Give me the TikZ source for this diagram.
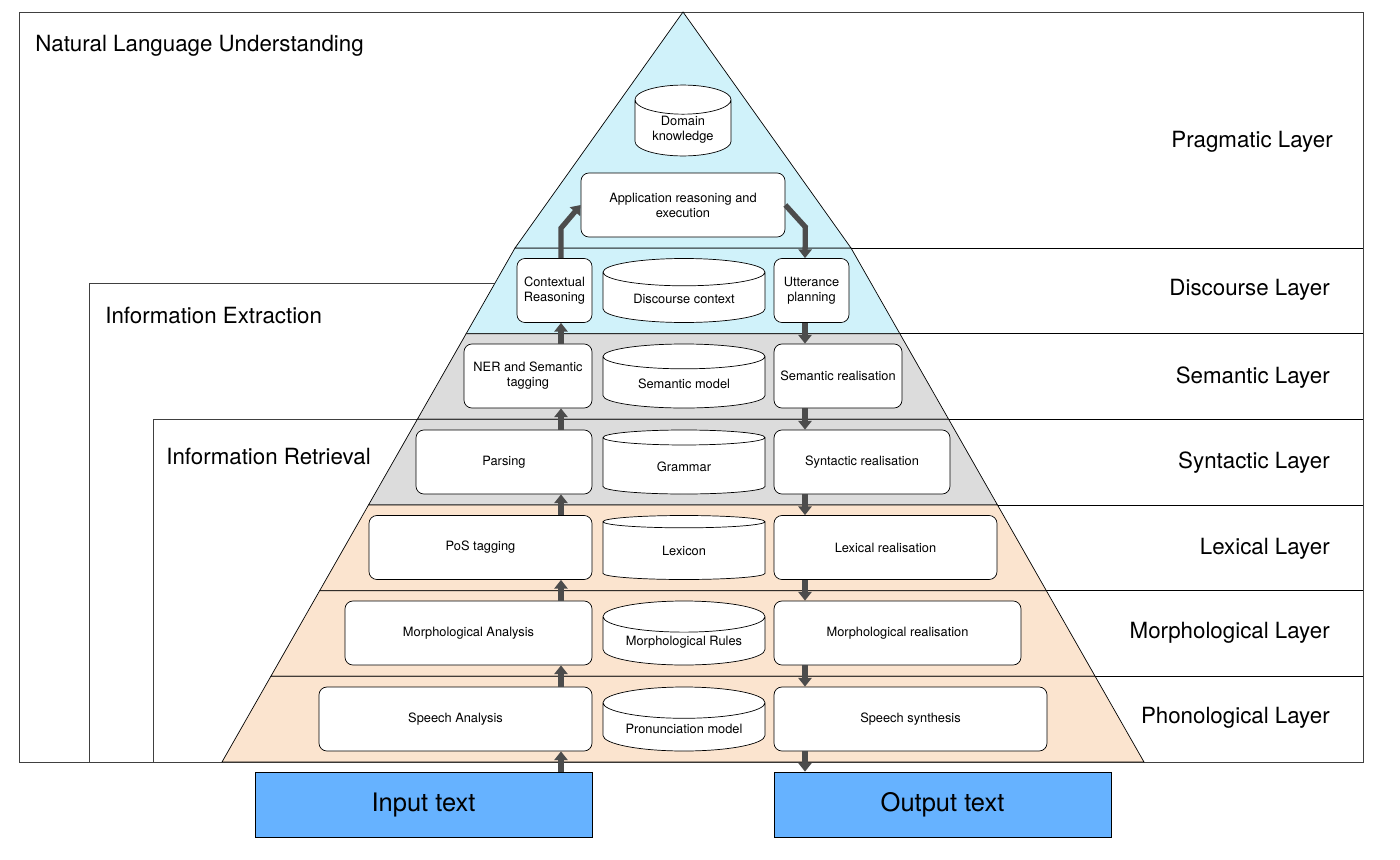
\documentclass[tikz,border=0pt]{standalone}
\usepackage{fontspec}
\setmainfont{TeX Gyre Heros}
\usetikzlibrary{positioning, calc, arrows.meta, shapes.geometric}
\definecolor{skyfill}{HTML}{D0F2FA}
\definecolor{greyfill}{HTML}{DCDCDC}
\definecolor{sandfill}{HTML}{FBE4CF}
\definecolor{iofill}{HTML}{66B2FF}
\newcommand\px{0.02cm}

\begin{document}
\begin{tikzpicture}[x=\px, y=-\px,
  proc/.style={draw, fill=white, rounded corners=4.5pt, minimum width=#1*\px, minimum height=64*\px,
    align=center, inner sep=1pt, font=\fontsize{7.3}{8.6}\selectfont},
  store/.style={cylinder, shape border rotate=90, draw, fill=white, aspect=#1, anchor=shape center,
    align=center, inner sep=1pt, font=\fontsize{7.3}{8.6}\selectfont},
  iobox/.style={draw, fill=iofill, minimum width=337*\px, minimum height=65*\px, font=\fontsize{14.5}{17}\selectfont},
  layer/.style={anchor=east, inner sep=0pt, font=\fontsize{12.7}{15}\selectfont},
  group/.style={anchor=west, inner sep=0pt, font=\fontsize{12.7}{15}\selectfont},
  flow/.style={draw=black!70, line width=3pt, -{Triangle[width=7.5pt,length=5pt]}}]
  \useasboundingbox (0,0) rectangle (1400,859);

  \coordinate (apex) at (683,12);
  \coordinate (tl) at (515,248);
  \coordinate (tr) at (851,248);
  \coordinate (bl) at (222,762);
  \coordinate (br) at (1144,762);
  \coordinate (ne) at (1363,12);

  \draw[black!75] (19,12) rectangle (1363,762);
  \draw[black!75] (89,762) |- ($(tl)!0.068!(bl)$);
  \draw[black!75] (153,762) |- ($(tl)!2/6!(bl)$);

  \foreach \i/\c in {0/skyfill,1/greyfill,2/greyfill,3/sandfill,4/sandfill,5/sandfill}{
    \pgfmathsetmacro\a{\i/6}
    \pgfmathsetmacro\b{(\i+1)/6}
    \draw[fill=\c] ($(tl)!\a!(bl)$) -- ($(tl)!\b!(bl)$) -- ($(tr)!\b!(br)$) -- ($(tr)!\a!(br)$) -- cycle;
    \path ($(tr)!\a!(br)$) coordinate (p);
    \draw (p) -- (p -| ne);
  }
  \draw[fill=skyfill] (apex) -- (tl) -- (tr) -- cycle;

  \node[store=0.45, minimum width=96*\px, minimum height=65*\px] (dk) at (683,120.5) {Domain\\knowledge};
  \node[proc=204] (app) at (683,205) {Application reasoning and\\execution};

  \node[proc=75] (ctx) at (554.5,290.5) {Contextual\\Reasoning};
  \node[proc=128] (ner) at (528,376) {NER and Semantic\\tagging};
  \node[proc=176] (parse) at (504,462) {Parsing};
  \node[proc=223] (pos) at (480.5,547.5) {PoS tagging};
  \node[proc=247] (ma) at (468.5,633) {Morphological Analysis};
  \node[proc=273] (sa) at (455.5,719) {Speech Analysis};

  \node[store=0.26, minimum width=162*\px, minimum height=64*\px] (dc) at (684,290.5) {Discourse context};
  \node[store=0.26, minimum width=162*\px, minimum height=64*\px] (sm) at (684,376) {Semantic model};
  \node[store=0.26, minimum width=162*\px, minimum height=64*\px] (gr) at (684,462) {Grammar};
  \node[store=0.26, minimum width=162*\px, minimum height=64*\px] (lx) at (684,547.5) {Lexicon};
  \node[store=0.26, minimum width=162*\px, minimum height=64*\px] (mru) at (684,633) {Morphological Rules};
  \node[store=0.26, minimum width=162*\px, minimum height=64*\px] (pm) at (684,719) {Pronunciation model};

  \node[proc=75] (utt) at (811.5,290.5) {Utterance\\planning};
  \node[proc=128] (semr) at (838,376) {Semantic realisation};
  \node[proc=176] (synr) at (862,462) {Syntactic realisation};
  \node[proc=223] (lexr) at (885.5,547.5) {Lexical realisation};
  \node[proc=247] (morr) at (897.5,633) {Morphological realisation};
  \node[proc=273] (synth) at (910.5,719) {Speech synthesis};

  \node[iobox] (in) at (423.5,804.5) {Input text};
  \node[iobox] (out) at (942.5,804.5) {Output text};

  \coordinate (upx) at (561,0);
  \coordinate (dnx) at (805,0);
  \foreach \a/\b in {in/sa, sa/ma, ma/pos, pos/parse, parse/ner, ner/ctx}
    \draw[flow] (upx |- \a.north) -- (upx |- \b.south);
  \foreach \a/\b in {utt/semr, semr/synr, synr/lexr, lexr/morr, morr/synth, synth/out}
    \draw[flow] (dnx |- \a.south) -- (dnx |- \b.north);
  \draw[flow] (upx |- ctx.north) -- ++(0,-30) -- (app.west);
  \draw[flow] (app.east) -- ++(20,22) -- (dnx |- utt.north);

  \node[group] (nlu) at (35,46) {Natural Language Understanding};
  \node[group] (ie) at (105,315) {Information Extraction};
  \node[group] (ir) at (166,456) {Information Retrieval};

  \node[layer] (prag) at (1333,142) {Pragmatic Layer};
  \node[layer] (disc) at (1330,290) {Discourse Layer};
  \node[layer] (sem) at (1330,378) {Semantic Layer};
  \node[layer] (syn) at (1330,463) {Syntactic Layer};
  \node[layer] (lex) at (1330,549) {Lexical Layer};
  \node[layer] (mor) at (1330,633) {Morphological Layer};
  \node[layer] (pho) at (1330,718) {Phonological Layer};
\end{tikzpicture}
\end{document}
